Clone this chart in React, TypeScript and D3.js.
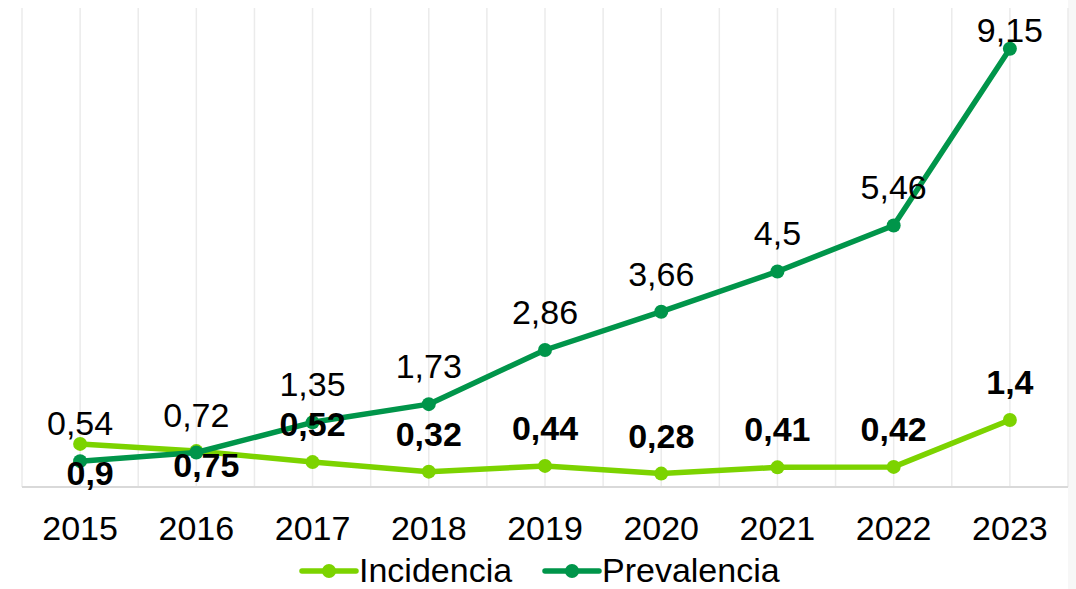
import React from 'react';
import * as d3 from 'd3';

const years = ['2015', '2016', '2017', '2018', '2019', '2020', '2021', '2022', '2023'];
const incidencia = [0.9, 0.75, 0.52, 0.32, 0.44, 0.28, 0.41, 0.42, 1.4];
const prevalencia = [0.54, 0.72, 1.35, 1.73, 2.86, 3.66, 4.5, 5.46, 9.15];
const seriesNames = ['Incidencia', 'Prevalencia'];
const yDomain = [0, 10];

const W = 1076;
const H = 589;
const M = { left: 22, right: 1068, top: 8, bottom: 487 };
const COL_INC = '#7CD300';
const COL_PREV = '#00954A';
const FONT = '"Liberation Sans", Arial, Helvetica, sans-serif';
const FS = 34;

const fmt = (v: number) => String(v).replace('.', ',');

export default function App() {
  const x = d3.scaleBand<string>().domain(years).range([M.left, M.right]).padding(0);
  const y = d3.scaleLinear().domain(yDomain).range([M.bottom, M.top]);
  const bw = x.bandwidth();
  const cx = (d: string) => (x(d) as number) + bw / 2;

  const grid: number[] = [];
  years.forEach((d) => {
    grid.push(x(d) as number);
    grid.push(cx(d));
  });
  grid.push(M.right);

  const line = d3
    .line<number>()
    .x((_, i) => cx(years[i]))
    .y((v) => y(v));

  const series = [
    { name: seriesNames[0], values: incidencia, color: COL_INC },
    { name: seriesNames[1], values: prevalencia, color: COL_PREV },
  ];

  const legendX = [302, 545];

  return (
    <svg
      width={W}
      height={H}
      viewBox={`0 0 ${W} ${H}`}
      style={{ position: 'absolute', left: 0, top: 0, background: '#fff' }}
      fontFamily={FONT}
    >
      <rect x={M.right} y={0} width={W - M.right} height={H} fill="#f7f7f7" />
      {grid.map((gx, i) => (
        <line key={i} x1={gx} x2={gx} y1={M.top} y2={M.bottom} stroke="#ebebeb" strokeWidth={1.5} />
      ))}
      <line x1={M.left} x2={M.right} y1={M.bottom} y2={M.bottom} stroke="#d9d9d9" strokeWidth={2} />

      {series.map((s) => (
        <g key={s.name}>
          <path d={line(s.values) || ''} fill="none" stroke={s.color} strokeWidth={5.5} strokeLinejoin="round" strokeLinecap="round" />
          {s.values.map((v, i) => (
            <circle key={i} cx={cx(years[i])} cy={y(v)} r={7} fill={s.color} />
          ))}
        </g>
      ))}

      {prevalencia.map((v, i) => (
        <text
          key={'p' + i}
          x={cx(years[i])}
          y={Math.max(y(v) - 26, M.top + 34)}
          textAnchor="middle"
          fontSize={FS}
          fill="#000"
        >
          {fmt(v)}
        </text>
      ))}

      {incidencia.map((v, i) => {
        const near = Math.abs(prevalencia[i] - v) < 0.6;
        const ly = near ? Math.max(y(v), y(prevalencia[i])) + 24 : y(v) - 26;
        const lx = cx(years[i]) + (near ? 10 : 0);
        return (
          <text key={'i' + i} x={lx} y={ly} textAnchor="middle" fontSize={FS} fontWeight="bold" fill="#000">
            {fmt(v)}
          </text>
        );
      })}

      {years.map((d) => (
        <text key={d} x={cx(d)} y={540} textAnchor="middle" fontSize={FS} fill="#000">
          {d}
        </text>
      ))}

      {series.map((s, i) => (
        <g key={'lg' + s.name} transform={`translate(${legendX[i]},571)`}>
          <line x1={0} x2={54} y1={0} y2={0} stroke={s.color} strokeWidth={5.5} strokeLinecap="round" />
          <circle cx={27} cy={0} r={7} fill={s.color} />
          <text x={57} y={11} fontSize={FS} fill="#000">
            {s.name}
          </text>
        </g>
      ))}
    </svg>
  );
}
